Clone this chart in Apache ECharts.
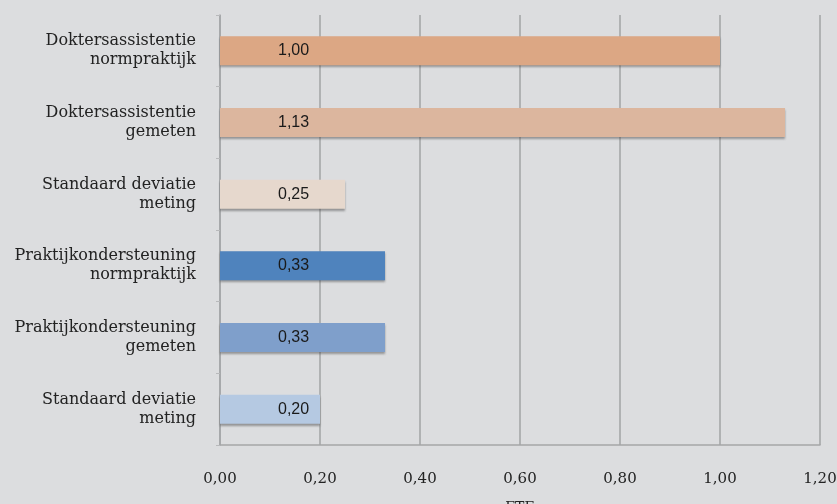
<!DOCTYPE html>
<html>
<head>
<meta charset="utf-8">
<script src="https://cdn.jsdelivr.net/npm/echarts@6/dist/echarts.min.js"></script>
<style>
  html, body { margin: 0; padding: 0; background: #dcdddf; }
  #chart { width: 837px; height: 504px; }
</style>
</head>
<body>
<div id="chart"></div>
<script>
// Categories, top to bottom
const categories = [
  'Doktersassistentie\nnormpraktijk',
  'Doktersassistentie\ngemeten',
  'Standaard deviatie\nmeting',
  'Praktijkondersteuning\nnormpraktijk',
  'Praktijkondersteuning\ngemeten',
  'Standaard deviatie\nmeting'
];
// FTE per category
const fteValues = [1.00, 1.13, 0.25, 0.33, 0.33, 0.20];
// Tick values on the FTE axis
const tickValues = [0, 0.2, 0.4, 0.6, 0.8, 1.0, 1.2];

const barColors = ['#dca784', '#dcb69e', '#e6d8cd', '#4f83bd', '#7f9fcb', '#b5c9e2'];

const fmt = v => v.toFixed(2).replace('.', ',');

const chart = echarts.init(document.getElementById('chart'));
chart.setOption({
  backgroundColor: '#dcdddf',
  animation: false,
  grid: {
    left: 220, right: 17, top: 15, bottom: 59,
    containLabel: false,
    outerBoundsMode: 'none'
  },
  xAxis: {
    type: 'value',
    min: tickValues[0],
    max: tickValues[tickValues.length - 1],
    interval: 0.2,
    name: 'FTE',
    nameLocation: 'middle',
    nameGap: 56,
    nameTextStyle: { fontFamily: 'DejaVu Serif', fontSize: 14, color: '#222' },
    axisLine: { show: true, lineStyle: { color: '#a5a6a8', width: 1.5 } },
    axisTick: { show: false },
    splitLine: { show: true, lineStyle: { color: '#a2a3a5', width: 1.5 } },
    axisLabel: {
      margin: 27,
      fontFamily: 'DejaVu Serif',
      fontSize: 15,
      color: '#222',
      formatter: v => fmt(v)
    }
  },
  yAxis: {
    type: 'category',
    data: categories,
    inverse: true,
    axisLine: { show: true, lineStyle: { color: '#a5a6a8', width: 1.5 } },
    axisTick: { show: true, length: 4, lineStyle: { color: '#b8b9bb' } },
    axisLabel: {
      margin: 24,
      fontFamily: 'DejaVu Serif',
      fontSize: 16,
      lineHeight: 19,
      color: '#222',
      align: 'right'
    }
  },
  series: [{
    type: 'bar',
    barWidth: 29,
    data: fteValues.map((v, i) => ({
      value: v,
      itemStyle: {
        color: barColors[i],
        shadowColor: 'rgba(60,60,60,0.45)',
        shadowBlur: 2,
        shadowOffsetY: 2
      }
    })),
    label: {
      show: true,
      position: [58, '50%'],
      align: 'left',
      verticalAlign: 'middle',
      fontFamily: 'Liberation Sans',
      fontSize: 16,
      color: '#1a1a1a',
      formatter: p => fmt(p.value)
    }
  }]
});
</script>
</body>
</html>
